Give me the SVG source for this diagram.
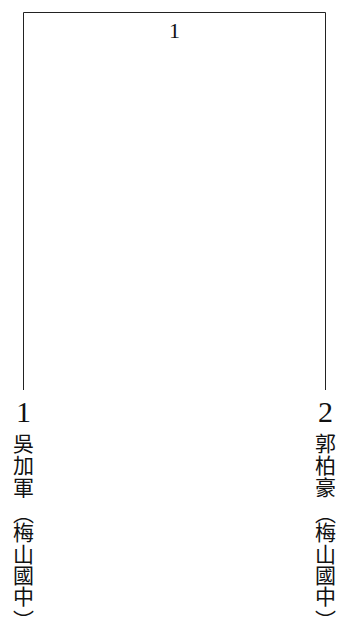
<svg xmlns="http://www.w3.org/2000/svg" width="342" height="632" viewBox="0 0 342 632">
  <style>
    .line { fill: none; stroke: #222; stroke-width: 1; }
    .num { font-family: "Liberation Serif", "Noto Sans CJK TC", serif; fill: #111; text-anchor: middle; }
    .name { font-family: "Noto Sans CJK TC", "Noto Sans CJK SC", sans-serif; font-size: 21px; fill: #111; writing-mode: vertical-rl; }
  </style>
  <rect width="342" height="632" fill="#ffffff"/>
  <g id="connectors">
    <path class="line" d="M23.5,390 V12.5 H325.5 V390"/>
  </g>
  <g id="match-1">
    <text class="num" x="174.5" y="38" font-size="22">1</text>
  </g>
  <g id="player-1">
    <text class="num" x="23.5" y="422" font-size="30">1</text>
    <text class="name" x="23.5" y="433 455 477 503 522 544 565 586 610">吳加軍（梅山國中）</text>
  </g>
  <g id="player-2">
    <text class="num" x="325.5" y="422" font-size="30">2</text>
    <text class="name" x="325.5" y="433 455 477 503 522 544 565 586 610">郭柏豪（梅山國中）</text>
  </g>
</svg>
